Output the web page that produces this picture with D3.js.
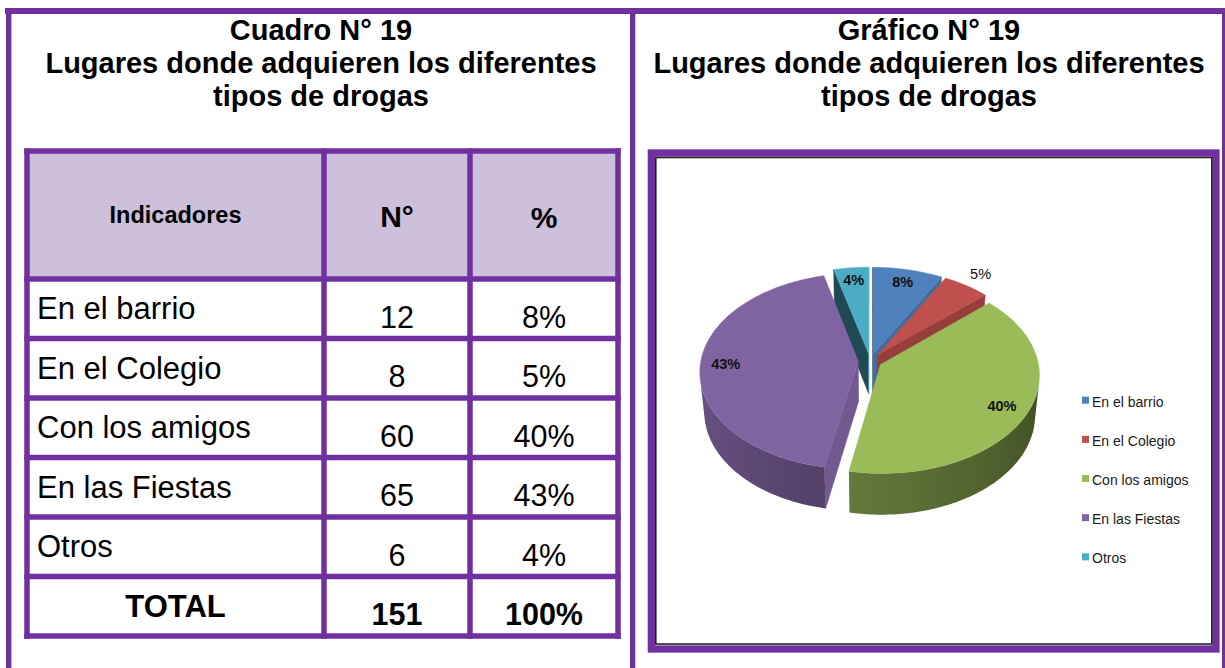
<!DOCTYPE html>
<html>
<head>
<meta charset="utf-8">
<script src="https://cdn.jsdelivr.net/npm/d3@7"></script>
<style>
  html, body { margin: 0; padding: 0; background: #fff; }
  svg { display: block; font-family: 'Liberation Sans', Arial, sans-serif; }
</style>
</head>
<body>
<svg id="chart" width="1225" height="668"></svg>
<script>
// data
var categories = ['En el barrio', 'En el Colegio', 'Con los amigos', 'En las Fiestas', 'Otros']
var counts = [12, 8, 60, 65, 6]
var percentLabels = ['8%', '5%', '40%', '43%', '4%']
var headers = ['Indicadores', 'N°', '%']
var totalRow = ['TOTAL', '151', '100%']
var titleLines = ['Lugares donde adquieren los diferentes', 'tipos de drogas']

var purple = '#7030A0'
var palette = ['#4F81BD', '#C0504D', '#9BBB59', '#8064A2', '#4BACC6']
var color = d3.scaleOrdinal().domain(categories).range(palette)

var svg = d3.select('#chart')
var defs = svg.append('defs')

// outer frame
var frame = svg.append('g').attr('fill', purple)
frame.append('rect').attr('x', 5).attr('y', 8).attr('width', 1220).attr('height', 6)
frame.append('rect').attr('x', 6).attr('y', 8).attr('width', 5.4).attr('height', 660)
frame.append('rect').attr('x', 630).attr('y', 8).attr('width', 5.3).attr('height', 660)
frame.append('rect').attr('x', 1222).attr('y', 8).attr('width', 3).attr('height', 660)

// titles
function drawTitle(cx, first){
  var g = svg.append('g').attr('text-anchor', 'middle')
    .style('font-weight', 'bold').style('font-size', '29px')
  ;[first].concat(titleLines).forEach(function(t, i){
    g.append('text').attr('x', cx).attr('y', 40 + i*33).text(t)
  })
}
drawTitle(321, 'Cuadro N° 19')
drawTitle(929, 'Gráfico N° 19')

// ---- table ----
var colEdges = [27, 324, 470, 618]
var tableTop = 151, headBottom = 279, tableBottom = 636
var colX = function(i){ return (colEdges[i] + colEdges[i + 1])/2 }

var rows = categories.map(function(c, i){ return [c, String(counts[i]), percentLabels[i]] })
rows.push(totalRow)

var y = d3.scaleBand().domain(d3.range(rows.length)).range([headBottom, tableBottom])

var tg = svg.append('g')
tg.append('rect')
  .attr('x', colEdges[0]).attr('y', tableTop)
  .attr('width', colEdges[3] - colEdges[0]).attr('height', headBottom - tableTop)
  .attr('fill', '#CCC0DA')

var hy = [223, 227, 227.5]
var hs = [23.5, 30, 30]
headers.forEach(function(h, i){
  tg.append('text').attr('x', colX(i)).attr('y', hy[i])
    .attr('text-anchor', 'middle')
    .style('font-weight', 'bold').style('font-size', hs[i] + 'px')
    .text(h)
})

rows.forEach(function(r, ri){
  var top = y(ri), bot = top + y.bandwidth()
  var isTotal = ri == rows.length - 1
  r.forEach(function(v, ci){
    var t = tg.append('text').text(v)
      .style('font-size', (ci == 0 ? 31 : 30.5) + 'px')
      .style('font-weight', isTotal ? 'bold' : 'normal')
    if (ci == 0 && !isTotal){
      t.attr('x', 37).attr('y', top + 40)
    } else if (ci == 0){
      t.attr('x', colX(0)).attr('y', top + 40.5).attr('text-anchor', 'middle')
    } else {
      t.attr('x', colX(ci)).attr('y', bot - 11).attr('text-anchor', 'middle')
    }
  })
})

var lines = tg.append('g').attr('stroke', purple).attr('stroke-width', 5.5)
  .attr('stroke-linecap', 'square')
;[tableTop, headBottom].concat(y.domain().map(function(i){ return y(i) + y.bandwidth() }))
  .forEach(function(yy){
    lines.append('line').attr('x1', colEdges[0]).attr('x2', colEdges[3]).attr('y1', yy).attr('y2', yy)
  })
colEdges.forEach(function(xx){
  lines.append('line').attr('x1', xx).attr('x2', xx).attr('y1', tableTop).attr('y2', tableBottom)
})

// ---- chart box ----
svg.append('rect').attr('x', 651.35).attr('y', 153).attr('width', 564.6).attr('height', 496)
  .attr('fill', '#fff').attr('stroke', purple).attr('stroke-width', 7.3)
svg.append('rect').attr('x', 655.8).attr('y', 157.5).attr('width', 556).attr('height', 486.5)
  .attr('fill', 'none').attr('stroke', '#222').attr('stroke-width', 1.6)

// ---- 3d pie, perspective projection ----
var phi = 38*Math.PI/180, camDist = 7.7, focal = 1212.6, depth = 0.33, explode = 0.075
var ox = 870.1, oy = 361

function proj(X, Y, Z){
  var d = camDist - Y*Math.sin(phi) - Z*Math.cos(phi)
  return [ox + focal*X/d, oy - focal*(Y*Math.cos(phi) - Z*Math.sin(phi))/d]
}
function pt(t, r, Y, m){
  return proj(r*Math.sin(t) + explode*Math.sin(m), Y, -r*Math.cos(t) - explode*Math.cos(m))
}
function area(p){
  var s = 0
  p.forEach(function(a, i){ var b = p[(i + 1) % p.length]; s += a[0]*b[1] - b[0]*a[1] })
  return s/2
}
function shade(c, k){
  var rgb = d3.rgb(c)
  return d3.rgb(rgb.r*k, rgb.g*k, rgb.b*k).formatHex()
}
var deg = function(a){ return ((a*180/Math.PI) % 360 + 360) % 360 }
var wallK = function(t){ return Math.max(0.35, Math.min(0.9, 0.38 + (deg(t) - 90)*0.00267)) }
var sideK = function(n){ return Math.max(0.35, Math.min(0.92, 0.92 - (deg(n) - 90)*0.003)) }

var arcs = d3.pie().sort(null).value(function(d){ return d })(counts)
arcs.forEach(function(a, i){
  a.cat = categories[i]
  a.mid = (a.startAngle + a.endAngle)/2
})
var order = arcs.slice().sort(function(a, b){ return -Math.cos(a.mid) + Math.cos(b.mid) })

var line = d3.line()
var pg = svg.append('g')
var step = Math.PI/180

order.forEach(function(a, si){
  var c = color(a.cat), m = a.mid
  var g = pg.append('g')
  var apexT = pt(0, 0, 0, m), apexB = pt(0, 0, -depth, m)

  // radial faces
  var sFace = [apexT, pt(a.startAngle, 1, 0, m), pt(a.startAngle, 1, -depth, m), apexB]
  var eFace = [pt(a.endAngle, 1, 0, m), apexT, apexB, pt(a.endAngle, 1, -depth, m)]
  ;[[sFace, a.startAngle - Math.PI/2], [eFace, a.endAngle + Math.PI/2]].forEach(function(f){
    if (area(f[0]) < 0){
      var fc = shade(c, sideK(f[1]))
      g.append('path').attr('d', line(f[0]) + 'Z').attr('fill', fc)
        .attr('stroke', fc).attr('stroke-width', 0.5)
    }
  })

  // outer wall: visible part as one path, shaded by a horizontal gradient
  var n = Math.max(2, Math.ceil((a.endAngle - a.startAngle)/step))
  var ts = d3.range(n + 1).map(function(k){ return a.startAngle + (a.endAngle - a.startAngle)*k/n })
  var vis = []
  for (var k = 0; k < n; k++){
    var q = [pt(ts[k], 1, 0, m), pt(ts[k + 1], 1, 0, m), pt(ts[k + 1], 1, -depth, m), pt(ts[k], 1, -depth, m)]
    if (area(q) < 0) vis.push(k)
  }
  if (vis.length){
    var wt = ts.slice(d3.min(vis), d3.max(vis) + 2)
    var topArc = wt.map(function(t){ return pt(t, 1, 0, m) })
    var botArc = wt.map(function(t){ return pt(t, 1, -depth, m) }).reverse()
    var xs = topArc.map(function(p){ return p[0] })
    var x0 = d3.min(xs), x1 = d3.max(xs)
    var gid = 'wall' + si
    var grad = defs.append('linearGradient').attr('id', gid)
      .attr('gradientUnits', 'userSpaceOnUse')
      .attr('x1', x0).attr('x2', x1).attr('y1', 0).attr('y2', 0)
    wt.map(function(t, i){ return {o: (xs[i] - x0)/Math.max(1e-6, x1 - x0), c: shade(c, wallK(t))} })
      .sort(function(p, q){ return p.o - q.o })
      .forEach(function(s){ grad.append('stop').attr('offset', s.o).attr('stop-color', s.c) })
    g.append('path').attr('d', line(topArc.concat(botArc)) + 'Z')
      .attr('fill', 'url(#' + gid + ')')
  }

  // top face
  var top = [apexT].concat(ts.map(function(t){ return pt(t, 1, 0, m) }))
  g.append('path').attr('d', line(top) + 'Z').attr('fill', c)
    .attr('stroke', c).attr('stroke-width', 0.4)
})

// data labels
var outside = ['En el Colegio']
arcs.forEach(function(a, i){
  var out = outside.indexOf(a.cat) > -1
  var p = pt(a.mid, out ? 1.175 : 0.84, 0, a.mid)
  pg.append('text').attr('x', p[0]).attr('y', p[1] + 5)
    .attr('text-anchor', 'middle')
    .style('font-size', '14.5px').style('font-weight', out ? 'normal' : 'bold')
    .attr('fill', '#111')
    .text(percentLabels[i])
})

// legend
var ly = d3.scalePoint().domain(categories).range([406.7, 563.3])
var lg = svg.append('g').selectAll('g').data(categories).join('g')
  .attr('transform', function(d){ return 'translate(1082,' + ly(d) + ')' })
lg.append('rect').attr('x', 0).attr('y', -10).attr('width', 7).attr('height', 7)
  .attr('fill', function(d){ return color(d) })
lg.append('text').attr('x', 10).attr('y', 0)
  .style('font-size', '14px').attr('fill', '#1a1a1a')
  .text(function(d){ return d })
</script>
</body>
</html>
